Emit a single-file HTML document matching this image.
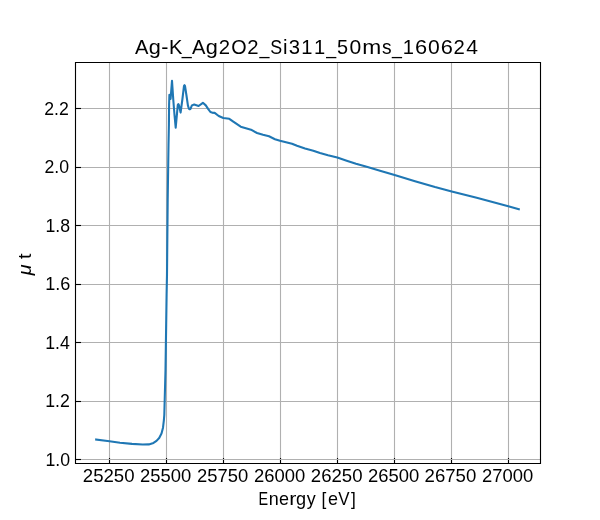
<!DOCTYPE html>
<html><head><meta charset="utf-8"><title>Ag-K_Ag2O2_Si311_50ms_160624</title>
<style>
html,body{margin:0;padding:0;background:#fff;}
body{width:600px;height:520px;overflow:hidden;position:relative;}
svg{position:absolute;left:0;top:0;display:block;will-change:transform;}
text{font-family:"Liberation Sans",sans-serif;fill:#000;}
</style></head><body>
<svg width="600" height="520" viewBox="0 0 600 520">
<rect x="0" y="0" width="600" height="520" fill="#fff"/>
<g stroke="#b0b0b0" stroke-width="1.1111" stroke-linecap="square" fill="none">
<line x1="109.5" y1="62.5" x2="109.5" y2="463.5"/>
<line x1="166.5" y1="62.5" x2="166.5" y2="463.5"/>
<line x1="223.5" y1="62.5" x2="223.5" y2="463.5"/>
<line x1="280.5" y1="62.5" x2="280.5" y2="463.5"/>
<line x1="337.5" y1="62.5" x2="337.5" y2="463.5"/>
<line x1="394.5" y1="62.5" x2="394.5" y2="463.5"/>
<line x1="451.5" y1="62.5" x2="451.5" y2="463.5"/>
<line x1="508.5" y1="62.5" x2="508.5" y2="463.5"/>
</g>
<g stroke="#000" stroke-width="1.1111" fill="none">
<line x1="109.5" y1="463.5" x2="109.5" y2="458.00"/>
<line x1="166.5" y1="463.5" x2="166.5" y2="458.00"/>
<line x1="223.5" y1="463.5" x2="223.5" y2="458.00"/>
<line x1="280.5" y1="463.5" x2="280.5" y2="458.00"/>
<line x1="337.5" y1="463.5" x2="337.5" y2="458.00"/>
<line x1="394.5" y1="463.5" x2="394.5" y2="458.00"/>
<line x1="451.5" y1="463.5" x2="451.5" y2="458.00"/>
<line x1="508.5" y1="463.5" x2="508.5" y2="458.00"/>
</g>
<g stroke="#b0b0b0" stroke-width="1.1111" stroke-linecap="square" fill="none">
<line x1="75.5" y1="108.5" x2="540.5" y2="108.5"/>
<line x1="75.5" y1="167.5" x2="540.5" y2="167.5"/>
<line x1="75.5" y1="225.5" x2="540.5" y2="225.5"/>
<line x1="75.5" y1="284.5" x2="540.5" y2="284.5"/>
<line x1="75.5" y1="342.5" x2="540.5" y2="342.5"/>
<line x1="75.5" y1="401.5" x2="540.5" y2="401.5"/>
<line x1="75.5" y1="459.5" x2="540.5" y2="459.5"/>
</g>
<g stroke="#000" stroke-width="1.1111" fill="none">
<line x1="75.5" y1="108.5" x2="81.00" y2="108.5"/>
<line x1="75.5" y1="167.5" x2="81.00" y2="167.5"/>
<line x1="75.5" y1="225.5" x2="81.00" y2="225.5"/>
<line x1="75.5" y1="284.5" x2="81.00" y2="284.5"/>
<line x1="75.5" y1="342.5" x2="81.00" y2="342.5"/>
<line x1="75.5" y1="401.5" x2="81.00" y2="401.5"/>
<line x1="75.5" y1="459.5" x2="81.00" y2="459.5"/>
</g>
<path d="M96.20 439.50 L109.50 441.30 L120.00 442.70 L132.00 443.90 L142.70 444.50 L148.80 444.40 L153.50 442.90 L156.50 440.90 L159.20 438.00 L161.50 433.50 L163.00 427.70 L163.80 420.80 L164.30 415.00 L165.50 370.00 L166.60 295.00 L167.00 275.00 L167.70 200.00 L168.50 145.00 L168.90 125.00 L169.10 105.00 L169.40 94.80 L170.60 98.90 L172.00 80.90 L173.30 100.00 L174.50 115.00 L175.70 127.60 L177.80 104.90 L178.35 104.10 L178.90 105.00 L180.60 112.60 L182.30 100.00 L184.00 85.80 L184.50 85.20 L185.00 85.80 L186.40 95.00 L187.90 105.40 L188.90 108.70 L189.70 109.30 L190.50 108.80 L191.90 105.40 L194.20 104.50 L198.60 106.00 L202.90 102.80 L205.80 105.40 L208.10 108.80 L210.40 112.00 L212.10 112.60 L214.70 112.90 L218.70 116.00 L223.30 118.00 L229.30 118.80 L233.30 121.70 L240.70 126.70 L245.00 128.00 L251.00 129.70 L257.00 133.00 L263.00 134.80 L269.00 136.20 L275.00 139.20 L280.00 140.80 L287.00 142.50 L292.00 143.80 L297.00 145.80 L305.00 148.50 L313.30 150.70 L320.00 153.10 L328.00 155.30 L337.30 157.60 L346.70 160.70 L356.00 163.70 L366.70 166.70 L380.00 170.70 L394.60 175.00 L415.00 181.20 L435.00 187.00 L451.70 191.40 L476.70 197.70 L508.30 206.30 L518.80 209.20" fill="none" stroke="#1f77b4" stroke-width="2.0833" stroke-linejoin="round" stroke-linecap="square"/>
<path d="M75.5 463.5 L75.5 62.5 M540.5 463.5 L540.5 62.5 M75.5 463.5 L540.5 463.5 M75.5 62.5 L540.5 62.5" stroke="#000" stroke-width="1.1111" stroke-linecap="square" fill="none"/>
<text x="82.85" y="482.00" font-size="17.72" textLength="51.70" lengthAdjust="spacingAndGlyphs">25250</text>
<text x="140.10" y="482.00" font-size="17.72" textLength="51.20" lengthAdjust="spacingAndGlyphs">25500</text>
<text x="197.10" y="482.00" font-size="17.72" textLength="51.20" lengthAdjust="spacingAndGlyphs">25750</text>
<text x="254.10" y="482.00" font-size="17.72" textLength="51.20" lengthAdjust="spacingAndGlyphs">26000</text>
<text x="310.85" y="482.00" font-size="17.72" textLength="51.70" lengthAdjust="spacingAndGlyphs">26250</text>
<text x="368.10" y="482.00" font-size="17.72" textLength="51.20" lengthAdjust="spacingAndGlyphs">26500</text>
<text x="424.60" y="482.00" font-size="17.72" textLength="51.70" lengthAdjust="spacingAndGlyphs">26750</text>
<text x="482.10" y="482.00" font-size="17.72" textLength="51.20" lengthAdjust="spacingAndGlyphs">27000</text>
<text x="44.20" y="115.00" font-size="17.72" textLength="24.60" lengthAdjust="spacingAndGlyphs">2.2</text>
<text x="44.45" y="173.00" font-size="17.72" textLength="24.60" lengthAdjust="spacingAndGlyphs">2.0</text>
<text x="45.45" y="232.00" font-size="17.72" textLength="24.60" lengthAdjust="spacingAndGlyphs">1.8</text>
<text x="45.20" y="290.00" font-size="17.72" textLength="25.10" lengthAdjust="spacingAndGlyphs">1.6</text>
<text x="45.20" y="349.00" font-size="17.72" textLength="24.60" lengthAdjust="spacingAndGlyphs">1.4</text>
<text x="45.20" y="407.00" font-size="17.72" textLength="24.60" lengthAdjust="spacingAndGlyphs">1.2</text>
<text x="45.45" y="466.00" font-size="17.72" textLength="24.60" lengthAdjust="spacingAndGlyphs">1.0</text>
<text y="54.00" font-size="21.00"><tspan x="135.12" textLength="13.44" lengthAdjust="spacingAndGlyphs">A</tspan><tspan x="148.82" textLength="12.09" lengthAdjust="spacingAndGlyphs">g</tspan><tspan x="161.39" textLength="7.18" lengthAdjust="spacingAndGlyphs">-</tspan><tspan x="168.93" textLength="13.45" lengthAdjust="spacingAndGlyphs">K</tspan><tspan x="181.82" textLength="9.92" lengthAdjust="spacingAndGlyphs">_</tspan><tspan x="191.99" textLength="13.44" lengthAdjust="spacingAndGlyphs">A</tspan><tspan x="205.69" textLength="12.09" lengthAdjust="spacingAndGlyphs">g</tspan><tspan x="218.69" textLength="11.30" lengthAdjust="spacingAndGlyphs">2</tspan><tspan x="231.19" textLength="15.38" lengthAdjust="spacingAndGlyphs">O</tspan><tspan x="247.19" textLength="11.30" lengthAdjust="spacingAndGlyphs">2</tspan><tspan x="259.57" textLength="9.92" lengthAdjust="spacingAndGlyphs">_</tspan><tspan x="270.13" textLength="11.89" lengthAdjust="spacingAndGlyphs">S</tspan><tspan x="282.89" textLength="4.54" lengthAdjust="spacingAndGlyphs">i</tspan><tspan x="288.63" textLength="11.26" lengthAdjust="spacingAndGlyphs">3</tspan><tspan x="301.29" textLength="11.20" lengthAdjust="spacingAndGlyphs">1</tspan><tspan x="314.04" textLength="11.20" lengthAdjust="spacingAndGlyphs">1</tspan><tspan x="326.20" textLength="9.92" lengthAdjust="spacingAndGlyphs">_</tspan><tspan x="337.00" textLength="11.07" lengthAdjust="spacingAndGlyphs">5</tspan><tspan x="349.49" textLength="11.73" lengthAdjust="spacingAndGlyphs">0</tspan><tspan x="362.18" textLength="18.98" lengthAdjust="spacingAndGlyphs">m</tspan><tspan x="382.05" textLength="9.59" lengthAdjust="spacingAndGlyphs">s</tspan><tspan x="391.95" textLength="9.92" lengthAdjust="spacingAndGlyphs">_</tspan><tspan x="402.66" textLength="11.20" lengthAdjust="spacingAndGlyphs">1</tspan><tspan x="415.04" textLength="12.14" lengthAdjust="spacingAndGlyphs">6</tspan><tspan x="427.99" textLength="11.73" lengthAdjust="spacingAndGlyphs">0</tspan><tspan x="440.66" textLength="12.14" lengthAdjust="spacingAndGlyphs">6</tspan><tspan x="453.57" textLength="11.30" lengthAdjust="spacingAndGlyphs">2</tspan><tspan x="466.37" textLength="11.73" lengthAdjust="spacingAndGlyphs">4</tspan></text>
<text y="505.00" font-size="17.80"><tspan x="258.45" textLength="9.63" lengthAdjust="spacingAndGlyphs">E</tspan><tspan x="268.70" textLength="9.99" lengthAdjust="spacingAndGlyphs">n</tspan><tspan x="279.03" textLength="10.01" lengthAdjust="spacingAndGlyphs">e</tspan><tspan x="289.22" textLength="7.11" lengthAdjust="spacingAndGlyphs">r</tspan><tspan x="295.91" textLength="10.07" lengthAdjust="spacingAndGlyphs">g</tspan><tspan x="306.70" textLength="8.95" lengthAdjust="spacingAndGlyphs">y</tspan><tspan x="316.12" textLength="5.30" lengthAdjust="spacingAndGlyphs"> </tspan><tspan x="321.57" textLength="4.82" lengthAdjust="spacingAndGlyphs">[</tspan><tspan x="328.03" textLength="10.01" lengthAdjust="spacingAndGlyphs">e</tspan><tspan x="338.18" textLength="11.28" lengthAdjust="spacingAndGlyphs">V</tspan><tspan x="350.98" textLength="4.82" lengthAdjust="spacingAndGlyphs">]</tspan></text>
<text transform="translate(30.70,275.20) rotate(-90)" font-size="17.66" textLength="21.80" lengthAdjust="spacingAndGlyphs"><tspan font-style="italic">μ</tspan> t</text>
</svg>
</body></html>
